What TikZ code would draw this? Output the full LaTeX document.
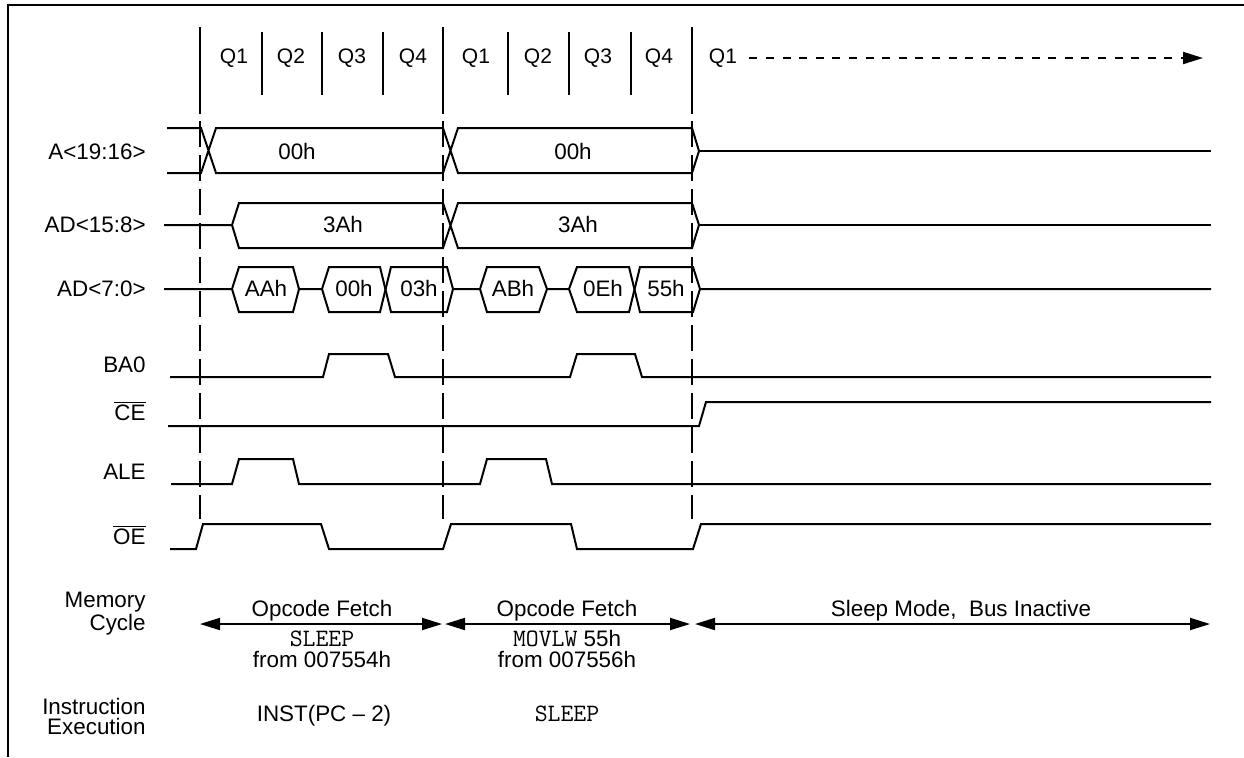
\documentclass[tikz,border=0pt]{standalone}
\usepackage{fontspec}
\setmainfont{Liberation Sans}
\usetikzlibrary{positioning}
\usetikzlibrary{arrows.meta}
\tikzset{
    every node/.append style={
        font=\fontsize{11.2}{12}\selectfont,
        inner sep=0pt
    },
    framel/.style={line width=1.4pt},
    waveline/.style={line width=1pt, line join=miter},
    qtick/.style={line width=1pt},
    cycdash/.style={line width=1pt, dash pattern=on 13pt off 4pt},
    qtext/.style={font=\fontsize{10.5}{11}\selectfont},
    siglabel/.style={anchor=east, text height=7.8pt, text depth=0pt},
    busval/.style={text height=7.8pt, text depth=0pt},
    mnem/.style={font=\fontsize{12.5}{12}\ttfamily},
    cyclearrow/.style={
        line width=1pt,
        {Triangle[length=10pt,width=6pt]}-{Triangle[length=10pt,width=6pt]}
    },
    nextq/.style={
        line width=1pt,
        dash pattern=on 4pt off 4.3pt,
        -{Triangle[length=10pt,width=6pt]}
    }
}

\begin{document}
\begin{tikzpicture}[x=0.5pt, y=-0.5pt]
    \useasboundingbox (0,0) rectangle (1244,757);
    \draw[framel] (1244,5) -- (8,5) -- (8,757);

    % clock phases
    \foreach \x in {200,443,692} {
        \draw[qtick] (\x,27) -- (\x,114);
        \draw[cycdash] (\x,121) -- (\x,519);
    }
    \foreach \x in {262,322,383,508,569,631}
        \draw[qtick] (\x,32) -- (\x,95);
    \foreach \x/\q [count=\i] in {234/1,291/2,352/3,413/4,476/1,538/2,598/3,659/4,723/1}
        \node[qtext] (q\i) at (\x,58) {Q\q};
    \coordinate (qend) at (1203,58);
    \draw[nextq] ([xshift=6pt]q9.east) -- (qend);

    % signal names
    \node[siglabel] (lA) at (146,152) {A<19:16>};
    \node[siglabel] (lADh) at (146,225) {AD<15:8>};
    \node[siglabel] (lADl) at (146,289) {AD<7:0>};
    \node[siglabel] (lBA) at (146,365) {BA0};
    \node[siglabel] (lCE) at (146,413) {$\overline{\mbox{CE}}$};
    \node[siglabel] (lALE) at (146,472) {ALE};
    \node[siglabel] (lOE) at (146,537) {$\overline{\mbox{OE}}$};

    % A<19:16>
    \draw[waveline] (167,128) -- (201,128) -- (216,173) -- (443,173) -- (458,128) -- (692,128) -- (699,151)
        -- (692,173) -- (458,173) -- (443,128) -- (216,128) -- (201,173) -- (167,173);
    \draw[waveline] (699,151) -- (1211,151);
    \node[busval] (vA1) at (297,152) {00h};
    \node[busval] (vA2) at (573,152) {00h};

    % AD<15:8>
    \draw[waveline] (164,225) -- (232,225) -- (239,203) -- (443,203) -- (458,248) -- (692,248) -- (699,225)
        -- (692,203) -- (458,203) -- (443,248) -- (239,248) -- (232,225);
    \draw[waveline] (699,225) -- (1211,225);
    \node[busval] (vADh1) at (343,225) {3Ah};
    \node[busval] (vADh2) at (578,225) {3Ah};

    % AD<7:0>
    \draw[waveline] (164,289) -- (232,289) -- (239,267) -- (293,267) -- (299,289) -- (322,289) -- (329,267)
        -- (380,267) -- (391,312) -- (447,312) -- (453,289) -- (480,289) -- (487,267) -- (539,267)
        -- (547,289) -- (569,289) -- (577,267) -- (629,267) -- (640,312) -- (693,312) -- (700,289) -- (1211,289);
    \draw[waveline] (232,289) -- (239,312) -- (293,312) -- (299,289);
    \draw[waveline] (322,289) -- (329,312) -- (380,312) -- (391,267) -- (447,267) -- (453,289);
    \draw[waveline] (480,289) -- (487,312) -- (539,312) -- (547,289);
    \draw[waveline] (569,289) -- (577,312) -- (629,312) -- (640,267) -- (693,267) -- (700,289);
    \node[busval] (vADl1) at (266,289) {AAh};
    \node[busval] (vADl2) at (354,289) {00h};
    \node[busval] (vADl3) at (419,289) {03h};
    \node[busval] (vADl4) at (513,289) {ABh};
    \node[busval] (vADl5) at (603,289) {0Eh};
    \node[busval] (vADl6) at (666,289) {55h};

    % BA0, CE, ALE, OE
    \draw[waveline] (170,377) -- (323,377) -- (329,354) -- (388,354) -- (395,377) -- (570,377) -- (577,354)
        -- (635,354) -- (642,377) -- (1211,377);
    \draw[waveline] (168,426) -- (699,426) -- (706,402) -- (1211,402);
    \draw[waveline] (171,484) -- (232,484) -- (239,459) -- (293,459) -- (299,484) -- (480,484) -- (487,459)
        -- (546,459) -- (552,484) -- (1211,484);
    \draw[waveline] (170,549) -- (196,549) -- (203,524) -- (321,524) -- (329,549) -- (443,549) -- (451,524)
        -- (571,524) -- (577,549) -- (693,549) -- (701,524) -- (1211,524);

    % memory cycle
    \node[anchor=east, align=right, font=\fontsize{11.2}{8.6}\selectfont] (lmem) at (146,614) {Memory\\Cycle};
    \coordinate (m0) at (200,624);
    \coordinate (m1) at (442,624);
    \coordinate (m2) at (445,624);
    \coordinate (m3) at (690,624);
    \coordinate (m4) at (695,624);
    \coordinate (m5) at (1210,624);
    \draw[cyclearrow] (m0) -- (m1);
    \draw[cyclearrow] (m2) -- (m3);
    \draw[cyclearrow] (m4) -- (m5);
    \node[busval] (of1) at (322,609) {Opcode Fetch};
    \node[busval, mnem, below=6.5pt of of1] (op1) {SLEEP};
    \node[busval, below=2.5pt of op1] (ad1) {from 007554h};
    \node[busval] (of2) at (567,609) {Opcode Fetch};
    \node[busval, below=6.5pt of of2] (op2) {{\fontsize{12.5}{12}\ttfamily MOVLW} 55h};
    \node[busval, below=2.5pt of op2] (ad2) {from 007556h};
    \node[busval] (sm) at (961,609) {Sleep Mode,\ \ Bus Inactive};

    % instruction execution
    \node[anchor=east, align=right, font=\fontsize{11.2}{10}\selectfont] (lexe) at (146,716) {Instruction\\Execution};
    \node[busval] (ex1) at (324,714) {INST(PC \textendash{} 2)};
    \node[busval, mnem] (ex2) at (567,714) {SLEEP};
\end{tikzpicture}
\end{document}
